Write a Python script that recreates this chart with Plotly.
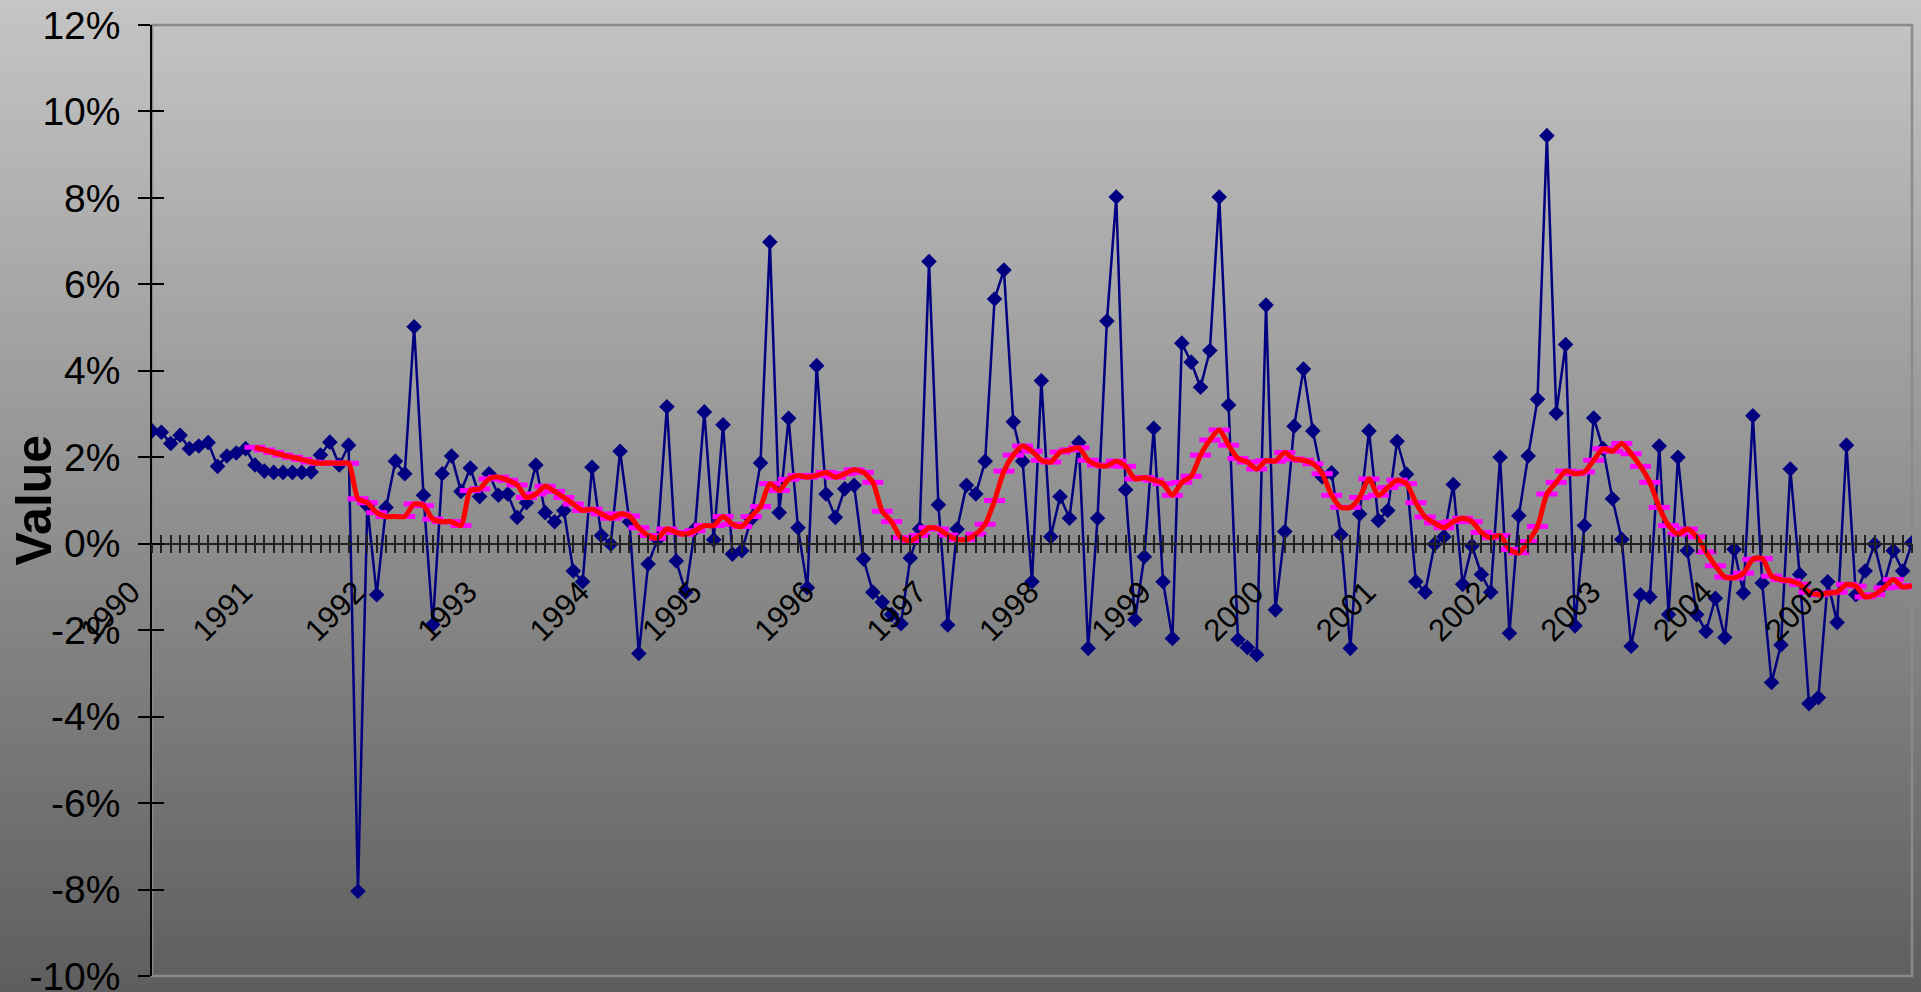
import plotly.graph_objects as go

# monthly values in %, Jan 1990 onwards
values = [
    2.61, 2.58, 2.32, 2.51, 2.20, 2.26, 2.34, 1.79, 2.03, 2.10, 2.20, 1.82,
    1.68, 1.65, 1.65, 1.65, 1.65, 1.66, 2.05, 2.35, 1.82, 2.28, -8.04, 0.88,
    -1.18, 0.84, 1.91, 1.62, 5.02, 1.12, -1.87, 1.62, 2.03, 1.21, 1.75, 1.09,
    1.62, 1.12, 1.15, 0.61, 0.95, 1.82, 0.72, 0.51, 0.77, -0.63, -0.88, 1.77,
    0.19, -0.01, 2.14, 0.51, -2.54, -0.47, 0.10, 3.17, -0.40, -1.12, 0.34, 3.05,
    0.09, 2.75, -0.24, -0.16, 0.57, 1.87, 6.98, 0.72, 2.90, 0.37, -1.02, 4.12,
    1.15, 0.61, 1.27, 1.35, -0.35, -1.12, -1.35, -1.64, -1.85, -0.33, 0.34, 6.53,
    0.90, -1.88, 0.34, 1.35, 1.15, 1.91, 5.66, 6.33, 2.82, 1.91, -0.88, 3.77,
    0.16, 1.09, 0.59, 2.34, -2.42, 0.59, 5.15, 8.02, 1.25, -1.76, -0.30, 2.67,
    -0.88, -2.19, 4.64, 4.20, 3.62, 4.47, 8.02, 3.21, -2.22, -2.40, -2.57, 5.52,
    -1.53, 0.28, 2.72, 4.04, 2.61, 1.55, 1.64, 0.21, -2.42, 0.69, 2.61, 0.54,
    0.77, 2.37, 1.61, -0.88, -1.12, -0.01, 0.16, 1.37, -0.94, -0.05, -0.71, -1.12,
    2.00, -2.07, 0.65, 2.03, 3.34, 9.44, 3.02, 4.61, -1.90, 0.42, 2.91, 2.20,
    1.04, 0.10, -2.37, -1.18, -1.23, 2.26, -1.64, 2.00, -0.16, -1.64, -2.03, -1.26,
    -2.17, -0.13, -1.14, 2.96, -0.91, -3.21, -2.34, 1.73, -0.71, -3.70, -3.56, -0.88,
    -1.82, 2.28, -1.18, -0.63, -0.01, -0.94, -0.16, -0.63, 0.02,
]

# 12-month moving average as drawn (starts Dec 1990)
ma12 = [
    2.23, 2.17, 2.11, 2.05, 2.00, 1.95, 1.89, 1.86, 1.87, 1.86, 1.86, 1.04, 0.95,
    0.72, 0.63, 0.63, 0.63, 0.92, 0.88, 0.57, 0.51, 0.51, 0.42, 1.23, 1.27,
    1.50, 1.54, 1.47, 1.36, 1.07, 1.15, 1.33, 1.21, 1.07, 0.92, 0.77, 0.80,
    0.69, 0.59, 0.69, 0.64, 0.37, 0.19, 0.13, 0.34, 0.26, 0.22, 0.30, 0.42,
    0.42, 0.63, 0.45, 0.40, 0.63, 0.86, 1.39, 1.23, 1.49, 1.58, 1.54, 1.58,
    1.65, 1.54, 1.62, 1.71, 1.65, 1.42, 0.75, 0.51, 0.14, 0.07, 0.19, 0.37,
    0.34, 0.20, 0.10, 0.10, 0.22, 0.45, 1.00, 1.68, 2.05, 2.26, 2.14, 1.93,
    1.89, 2.12, 2.17, 2.22, 1.93, 1.82, 1.80, 1.91, 1.79, 1.50, 1.53, 1.47,
    1.39, 1.12, 1.42, 1.56, 2.05, 2.40, 2.63, 2.28, 1.97, 1.89, 1.73, 1.92,
    1.91, 2.11, 1.96, 1.93, 1.85, 1.62, 1.12, 0.84, 0.84, 1.07, 1.50, 1.12,
    1.30, 1.47, 1.39, 0.95, 0.62, 0.48, 0.37, 0.51, 0.59, 0.51, 0.26, 0.14,
    0.19, -0.13, -0.21, 0.05, 0.40, 1.15, 1.42, 1.68, 1.62, 1.66, 1.93, 2.20,
    2.14, 2.32, 2.08, 1.79, 1.42, 0.84, 0.42, 0.22, 0.34, 0.16, -0.19, -0.51,
    -0.77, -0.79, -0.68, -0.36, -0.34, -0.75, -0.83, -0.86, -0.94, -1.12, -1.18, -1.14,
    -1.12, -0.94, -0.98, -1.23, -1.18, -1.02, -0.83, -1.00, -0.97,
]

y_ticks = [-10, -8, -6, -4, -2, 0, 2, 4, 6, 8, 10, 12]
y_tick_text = [f"{v}%" for v in y_ticks]

months = [f"{1990 + i // 12}-{i % 12 + 1:02d}" for i in range(len(values))]
ma_months = months[len(months) - len(ma12):]
tick_text = [m[:4] if m.endswith("-01") else "" for m in months]

Y_MIN, Y_MAX = -10, 12
zero_pos = (0 - Y_MIN) / (Y_MAX - Y_MIN)
FONT = "Liberation Sans, Arial, sans-serif"

fig = go.Figure()
fig.add_trace(go.Scatter(x=months, y=values, mode="lines+markers",
                         line=dict(color="#000080", width=2.5),
                         marker=dict(symbol="diamond", size=12, color="#000080")))
fig.add_trace(go.Scatter(x=ma_months, y=ma12, mode="markers",
                         marker=dict(symbol="line-ew", size=15,
                                     line=dict(color="#ff00ff", width=5))))
fig.add_trace(go.Scatter(x=ma_months, y=ma12, mode="lines",
                         line=dict(color="#ff0000", width=5, shape="spline", smoothing=0.7)))
# carrier trace for the inner halves of the cross tick marks
fig.add_trace(go.Scatter(x=months[:1], y=[None], xaxis="x2", yaxis="y2",
                         mode="markers", hoverinfo="skip"))

# vertical grey gradient behind everything (Excel-style fill)
H, TOP, BOT = 992, 25, 976
shapes = []
step = 8
for py in range(-2 * step, H + 2 * step, step):
    g = int(round(197 - 0.104 * (py + step / 2)))
    g = max(min(g, 255), 0)
    y0 = (BOT - (py + step + 1)) / (BOT - TOP)
    y1 = (BOT - py) / (BOT - TOP)
    shapes.append(dict(type="rect", xref="paper", yref="paper", x0=-0.2, x1=1.2,
                       y0=y0, y1=y1, line=dict(width=0),
                       fillcolor=f"rgb({g},{g},{g})", layer="below"))
shapes.append(dict(type="rect", xref="paper", yref="paper", x0=0, x1=1, y0=0, y1=1,
                   line=dict(color="#8a8a8a", width=2.5), layer="below"))

fig.update_layout(
    width=1921, height=992,
    margin=dict(l=152, r=9, t=25, b=16, autoexpand=False),
    paper_bgcolor="#c4c4c4", plot_bgcolor="rgba(0,0,0,0)",
    showlegend=False,
    font=dict(family=FONT, color="black"),
    shapes=shapes,
    xaxis=dict(type="category", categoryorder="array", categoryarray=months,
               range=[0, len(months) - 1], anchor="free", position=zero_pos,
               tickmode="array", tickvals=months, ticktext=tick_text,
               ticks="outside", ticklen=9, tickwidth=1.5, tickcolor="#222",
               tickangle=-45, tickfont=dict(size=31),
               ticklabelshift=-21, ticklabelstandoff=8, ticklabeloverflow="allow",
               automargin=False,
               showline=True, linecolor="#222", linewidth=1.5,
               showgrid=False, zeroline=False),
    xaxis2=dict(type="category", categoryorder="array", categoryarray=months,
                range=[0, len(months) - 1], overlaying="x", anchor="free",
                position=zero_pos, tickmode="array", tickvals=months,
                ticks="inside", ticklen=9, tickwidth=1.5, tickcolor="#222",
                automargin=False,
                showticklabels=False, showline=False, showgrid=False, zeroline=False),
    yaxis=dict(range=[Y_MIN, Y_MAX], tickmode="array", tickvals=y_ticks,
               ticktext=y_tick_text,
               ticks="outside", ticklen=12, tickwidth=1.5, tickcolor="black",
               tickfont=dict(size=39), ticklabelstandoff=10, ticklabeloverflow="allow",
               automargin=False,
               showline=True, linecolor="black", linewidth=1.5,
               showgrid=False, zeroline=False),
    yaxis2=dict(range=[Y_MIN, Y_MAX], tickmode="array", tickvals=y_ticks,
                overlaying="y",
                ticks="inside", ticklen=12, tickwidth=1.5, tickcolor="black",
                automargin=False,
                showticklabels=False, showline=False, showgrid=False, zeroline=False),
    annotations=[dict(text="<b>Value</b>", xref="paper", yref="paper",
                      x=(33 - 152) / 1760, y=0.5, xanchor="center", yanchor="middle",
                      textangle=-90, showarrow=False, font=dict(size=50, color="black"))],
)

fig.write_html("out.html", config={"displayModeBar": False},
               post_script="document.body.style.margin='0';document.body.style.overflow='hidden';")
